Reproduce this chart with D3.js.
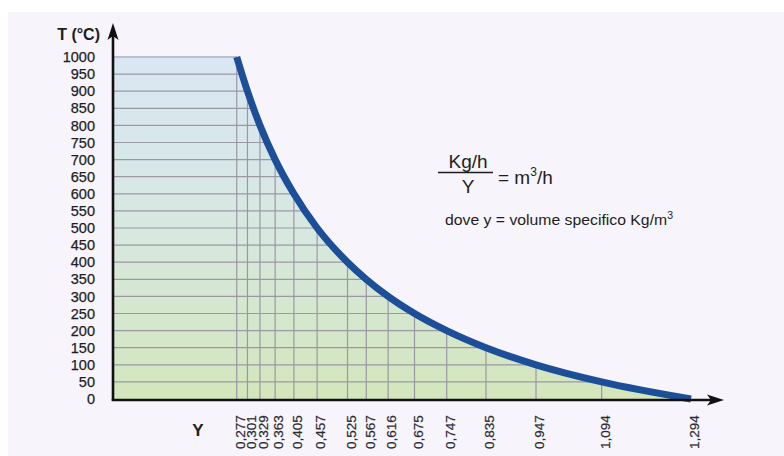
<!DOCTYPE html>
<html>
<head>
<meta charset="utf-8">
<script src="https://cdn.jsdelivr.net/npm/d3@7/dist/d3.min.js"></script>
<style>
  html, body { margin: 0; padding: 0; background: #ffffff; }
  svg { display: block; font-family: "Liberation Sans", Arial, sans-serif; }
</style>
</head>
<body>
<svg id="chart" width="784" height="456"></svg>
<script>
// Specific volume Y (kg/m3) and temperature T (°C) pairs
const specVol = [0.277, 0.301, 0.329, 0.363, 0.405, 0.457, 0.525, 0.567, 0.616, 0.675, 0.747, 0.835, 0.947, 1.094, 1.294];
const tempC   = [1000, 900, 800, 700, 600, 500, 400, 350, 300, 250, 200, 150, 100, 50, 0];
const xTickLabels = ["0,277", "0,301", "0,329", "0,363", "0,405", "0,457", "0,525", "0,567", "0,616", "0,675", "0,747", "0,835", "0,947", "1,094", "1,294"];
const yTicks = [0, 50, 100, 150, 200, 250, 300, 350, 400, 450, 500, 550, 600, 650, 700, 750, 800, 850, 900, 950, 1000];

const svg = d3.select("#chart");

// background
svg.append("rect").attr("x", 8).attr("y", 12).attr("width", 776).attr("height", 444).attr("fill", "#f7f4fb");

const x = d3.scaleLinear().domain([0, 1.294]).range([113, 691]);
const y = d3.scaleLinear().domain([0, 1000]).range([399, 57]);

const pts = specVol.map((v, i) => [v, tempC[i]]);

const defs = svg.append("defs");
const grad = defs.append("linearGradient").attr("id", "fillGrad")
  .attr("gradientUnits", "userSpaceOnUse")
  .attr("x1", 0).attr("y1", y(1000)).attr("x2", 0).attr("y2", y(0));
grad.append("stop").attr("offset", "0%").attr("stop-color", "#d9e6f4");
grad.append("stop").attr("offset", "50%").attr("stop-color", "#d7e8e0");
grad.append("stop").attr("offset", "100%").attr("stop-color", "#d3e6bb");

const line = d3.line().x(d => x(d[0])).y(d => y(d[1])).curve(d3.curveMonotoneX);
const curvePath = line(pts);

// filled region under the curve (plus rectangle up to 1000 at the left)
const areaPath = "M" + x(0) + "," + (y(1000) - 1) + "L" + x(pts[0][0]) + "," + (y(1000) - 1) +
  "L" + curvePath.substring(1) +
  "L" + x(0) + "," + y(0) + "Z";

defs.append("clipPath").attr("id", "areaClip").append("path").attr("d", areaPath);

svg.append("path").attr("d", areaPath).attr("fill", "url(#fillGrad)");

// grid lines clipped to region
const grid = svg.append("g").attr("clip-path", "url(#areaClip)")
  .attr("stroke", "#9b97a3").attr("stroke-width", 1.2);
grid.selectAll("line.h").data(yTicks.filter(t => t > 0)).join("line")
  .attr("class", "h")
  .attr("x1", x(0)).attr("x2", x(1.294))
  .attr("y1", d => y(d)).attr("y2", d => y(d));
grid.selectAll("line.v").data(specVol).join("line")
  .attr("class", "v")
  .attr("x1", d => x(d)).attr("x2", d => x(d))
  .attr("y1", y(0)).attr("y2", y(1000) - 2);

// curve
svg.append("path").attr("d", curvePath)
  .attr("fill", "none").attr("stroke", "#1c4f98").attr("stroke-width", 7);

// Y axis (labels)
const yAxis = svg.append("g").attr("transform", "translate(" + x(0) + ",0)")
  .call(d3.axisLeft(y).tickValues(yTicks).tickSize(0).tickPadding(18).tickFormat(d => String(d)));
yAxis.select(".domain").remove();
yAxis.selectAll("text").attr("font-size", 14.5).attr("fill", "#1e1e22")
  .attr("stroke", "#1e1e22").attr("stroke-width", 0.25)
  .attr("font-family", "'Liberation Sans', Arial, sans-serif").attr("dy", "0.32em");

// X axis (labels)
const xAxis = svg.append("g").attr("transform", "translate(0," + y(0) + ")")
  .call(d3.axisBottom(x).tickValues(specVol).tickSize(0).tickFormat((d, i) => xTickLabels[i]));
xAxis.select(".domain").remove();
xAxis.selectAll("text")
  .attr("transform", "rotate(-90)")
  .attr("text-anchor", "start")
  .attr("x", -50).attr("y", 3).attr("dy", "0.35em")
  .attr("font-size", 13.5).attr("fill", "#2a2a30")
  .attr("stroke", "#2a2a30").attr("stroke-width", 0.2)
  .attr("font-family", "'Liberation Sans', Arial, sans-serif");

// axis lines with arrows
svg.append("line").attr("x1", x(0)).attr("x2", x(0)).attr("y1", y(0) + 1.5).attr("y2", 36)
  .attr("stroke", "#111").attr("stroke-width", 2.6);
svg.append("path").attr("d", "M" + x(0) + ",23L" + (x(0) - 5.5) + ",40L" + x(0) + ",36L" + (x(0) + 5.5) + ",40Z")
  .attr("fill", "#111");
svg.append("line").attr("x1", x(0) - 1.3).attr("x2", 712).attr("y1", y(0) + 1).attr("y2", y(0) + 1)
  .attr("stroke", "#111").attr("stroke-width", 2.6);
svg.append("path").attr("d", "M724," + (y(0) + 1) + "L707," + (y(0) - 4.5) + "L711," + (y(0) + 1) + "L707," + (y(0) + 6.5) + "Z")
  .attr("fill", "#111");

// axis titles
svg.append("text").attr("x", 100).attr("y", 40).attr("text-anchor", "end")
  .attr("font-size", 16).attr("font-weight", "bold").attr("fill", "#1e1e22").text("T (°C)");
svg.append("text").attr("x", 198).attr("y", 436).attr("text-anchor", "middle")
  .attr("font-size", 17).attr("font-weight", "bold").attr("fill", "#1e1e22").text("Y");

// formula
const f = svg.append("g").attr("fill", "#1e1e22");
f.append("text").attr("x", 468).attr("y", 168).attr("text-anchor", "middle").attr("font-size", 19).text("Kg/h");
f.append("line").attr("x1", 438).attr("x2", 493).attr("y1", 172.5).attr("y2", 172.5).attr("stroke", "#1e1e22").attr("stroke-width", 1.3);
f.append("text").attr("x", 468).attr("y", 193).attr("text-anchor", "middle").attr("font-size", 19).text("Y");
const eq = f.append("text").attr("x", 498).attr("y", 184).attr("font-size", 19);
eq.append("tspan").text("= m");
eq.append("tspan").attr("font-size", 12).attr("dy", -8).text("3");
eq.append("tspan").attr("dy", 8).text("/h");
const note = f.append("text").attr("x", 445).attr("y", 225).attr("font-size", 15).attr("textLength", 228).attr("lengthAdjust", "spacingAndGlyphs");
note.append("tspan").text("dove y = volume specifico Kg/m");
note.append("tspan").attr("font-size", 10).attr("dy", -6).text("3");
</script>
</body>
</html>
